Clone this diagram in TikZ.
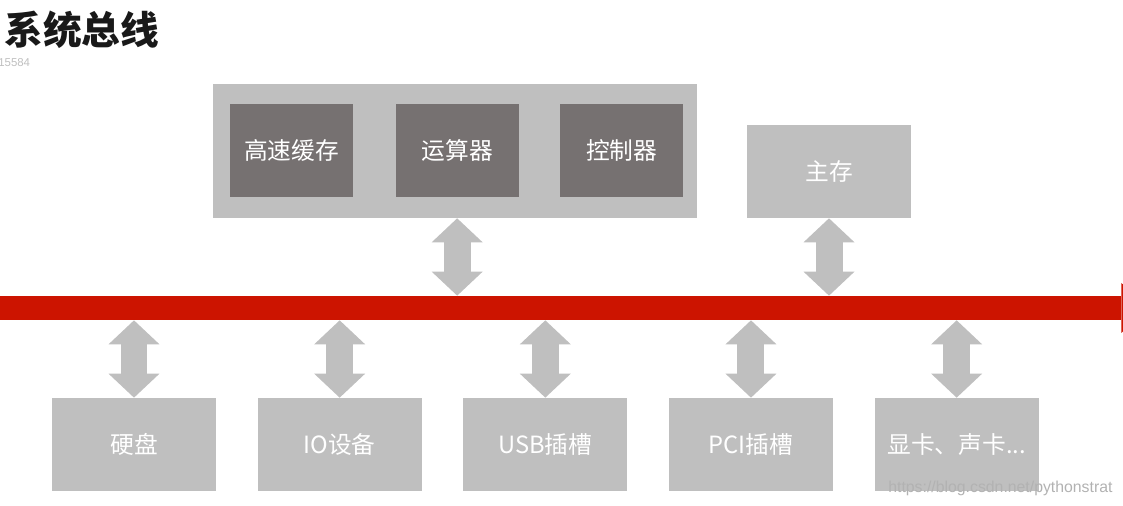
\documentclass[tikz,border=0pt]{standalone}
\usepackage{fontspec}
\setmainfont{Noto Sans CJK SC}
\newfontfamily\urlfont{Liberation Sans}
\usetikzlibrary{positioning,arrows.meta,calc}
\definecolor{boxgray}{HTML}{BFBFBF}
\definecolor{unitgray}{HTML}{767171}
\definecolor{busred}{HTML}{CC1400}

\begin{document}
\begin{tikzpicture}[
    x=0.02cm, y=-0.02cm,
    box/.style={fill=boxgray, minimum width=3.28cm, minimum height=1.86cm,
                inner sep=0pt, text=white, font=\fontsize{13.5pt}{16pt}\selectfont},
    cpuunit/.style={box, fill=unitgray, minimum width=2.46cm},
    arr/.style={boxgray, line width=0.54cm, {Triangle[width=1.02cm,length=0.48cm,line width=0pt]}-{Triangle[width=1.02cm,length=0.48cm,line width=0pt]}},
]
  \useasboundingbox (0,0) rectangle (1123,506);
  \clip (0,0) rectangle (1123,506);

  \node[anchor=west, inner sep=0pt, font=\fontsize{22pt}{26pt}\selectfont\bfseries, text=black!90] (title) at (4,30) {系统总线};
  \node[anchor=west, inner sep=0pt, font=\urlfont\fontsize{6.5pt}{7pt}\selectfont, text=black!25] (num) at (-2,63) {15584};

  \node[box, minimum width=9.68cm, minimum height=2.68cm] (cpu) at (455,151) {};
  \node[cpuunit] (cache) at (291.5,150.5) {高速缓存};
  \node[cpuunit, right=0.84cm of cache] (alu) {运算器};
  \node[cpuunit, right=0.82cm of alu] (ctrl) {控制器};
  \node[box] (mem) at (829,171.5) {主存};

  \node[fill=busred, minimum width=22.42cm, minimum height=0.48cm, inner sep=0pt] (bus) at (560.5,308) {};
  \fill[busred] (bus.east) ++(0,-25) -- ++(30,25) -- ++(-30,25) -- cycle;

  \node[box] (disk) at (134,444.5) {硬盘};
  \node[box, right=0.82cm of disk] (io) {IO设备};
  \node[box, right=0.82cm of io] (usb) {USB插槽};
  \node[box, right=0.82cm of usb] (pci) {PCI插槽};
  \node[box, right=0.82cm of pci] (card) {显卡、声卡...};

  \draw[arr] (alu |- cpu.south) -- (alu |- bus.north);
  \draw[arr] (mem.south) -- (mem |- bus.north);
  \foreach \n in {disk,io,usb,pci,card}
    \draw[arr] (\n |- bus.south) -- (\n.north);

  \node[anchor=base west, inner sep=0pt, font=\urlfont\fontsize{9pt}{10pt}\selectfont, text=black!30] (url) at (888,493) {https://blog.csdn.net/pythonstrat};
\end{tikzpicture}
\end{document}
